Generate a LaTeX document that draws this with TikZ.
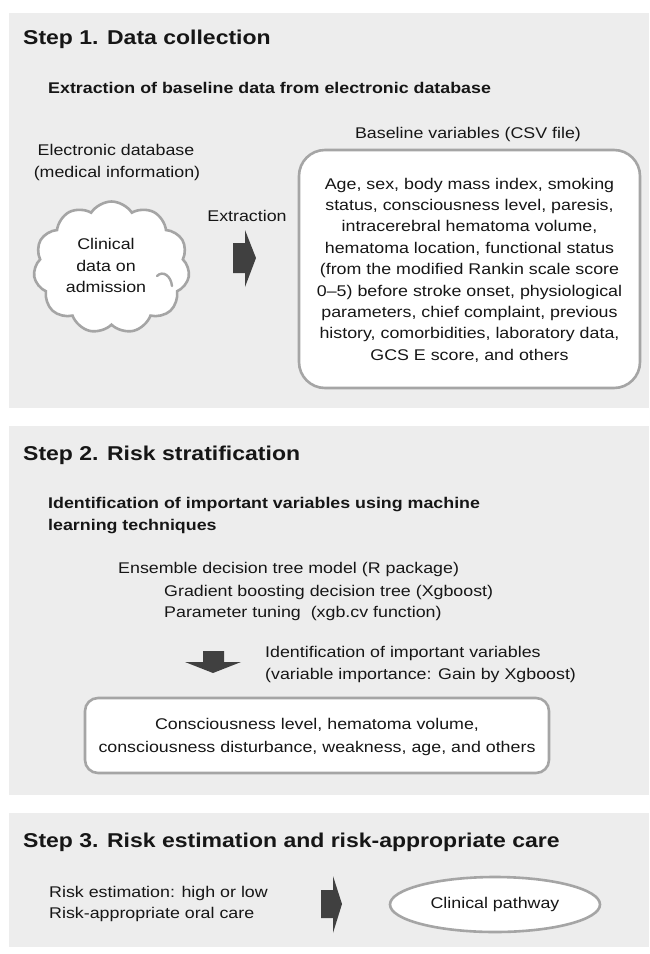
\documentclass[tikz,border=0pt]{standalone}
\usepackage{fontspec}
\setmainfont[FakeStretch=1.15]{Liberation Sans}
\usetikzlibrary{shapes.symbols,shapes.geometric}
\definecolor{panelgray}{RGB}{237,237,237}
\definecolor{linegray}{RGB}{165,165,165}
\definecolor{arrowgray}{RGB}{64,64,64}
\definecolor{txt}{RGB}{22,22,22}
\begin{document}
\begin{tikzpicture}[x=1pt,y=-1pt,
  panel/.style={fill=panelgray,draw=none},
  steptitle/.style={anchor=base west,inner sep=0,font=\fontsize{20}{24}\selectfont\bfseries,text=txt},
  subtitle/.style={anchor=base west,inner sep=0,font=\fontsize{15.5}{19}\selectfont\bfseries,text=txt},
  bodyw/.style={anchor=base west,inner sep=0,font=\fontsize{15.5}{21.4}\selectfont,text=txt},
  bodyc/.style={anchor=base,inner sep=0,font=\fontsize{15.5}{21.4}\selectfont,text=txt},
  grayframe/.style={draw=linegray,line width=2.6pt,fill=white},
  innerarc/.style={draw=linegray,line width=2.4pt,line cap=round},
  blockarrow/.style={fill=arrowgray,draw=none}
]
\useasboundingbox (0,0) rectangle (649,954);
\fill[white] (0,0) rectangle (649,954);
% panels
\fill[panel] (9,13) rectangle (649,408);
\fill[panel] (9,426) rectangle (649,795);
\fill[panel] (9,813) rectangle (649,947);

% ---------- Step 1 ----------
\node[steptitle] (t1) at (23,44) {Step 1. Data collection};
\node[subtitle] (s1) at (48,93.5) {Extraction of baseline data from electronic database};
\node[bodyc] (csv) at (468,138.5) {Baseline variables (CSV file)};
\node[bodyc] (edb1) at (116,155.5) {Electronic database};
\node[bodyc] (edb2) at (117,177.5) {(medical information)};
\node[cloud,grayframe,cloud puffs=11,cloud puff arc=115,aspect=1.15,
      minimum width=156pt,minimum height=132pt,inner sep=0] (cloud) at (111.5,267.5) {};
\draw[innerarc] (157,276) .. controls (163,270) and (171,276) .. (172,286);
\node[bodyc] (cl1) at (106,249.5) {Clinical};
\node[bodyc] (cl2) at (106,271.5) {data on};
\node[bodyc] (cl3) at (106,292.5) {admission};
\node[bodyc] (extr) at (247,221.5) {Extraction};
\fill[blockarrow] (233,243) -- (245,243) -- (245,230) -- (256,258) -- (245,287) -- (245,273) -- (233,273) -- cycle;
\draw[grayframe,rounded corners=26pt] (299,150) rectangle (640,388);
\node[inner sep=0,font=\fontsize{15.5}{21.4}\selectfont,text=txt,align=center] (vars) at (469.5,270) {Age, sex, body mass index, smoking\\
status, consciousness level, paresis,\\
intracerebral hematoma volume,\\
hematoma location, functional status\\
(from the modified Rankin scale score\\
0--5) before stroke onset, physiological\\
parameters, chief complaint, previous\\
history, comorbidities, laboratory data,\\
GCS E score, and others};

% ---------- Step 2 ----------
\node[steptitle] (t2) at (23,460) {Step 2. Risk stratification};
\node[subtitle] (s2a) at (48,508.5) {Identification of important variables using machine};
\node[subtitle] (s2b) at (48,530.5) {learning techniques};
\node[bodyw] (ens) at (118,573.5) {Ensemble decision tree model (R package)};
\node[bodyw] (gbt) at (164,596.5) {Gradient boosting decision tree (Xgboost)};
\node[bodyw] (par) at (164,617.5) {Parameter tuning\ \ (xgb.cv function)};
\fill[blockarrow] (203,651) -- (224,651) -- (224,662) -- (241,662) -- (213,673) -- (185,662) -- (203,662) -- cycle;
\node[bodyw] (imp1) at (265,657.5) {Identification of important variables};
\node[bodyw] (imp2) at (265,679.5) {(variable importance: Gain by Xgboost)};
\draw[grayframe,rounded corners=13pt] (85,698) rectangle (549,773);
\node[inner sep=0,font=\fontsize{15.5}{23}\selectfont,text=txt,align=center] (res) at (317,736.5) {Consciousness level, hematoma volume,\\
consciousness disturbance, weakness, age, and others};

% ---------- Step 3 ----------
\node[steptitle] (t3) at (23,847) {Step 3. Risk estimation and risk-appropriate care};
\node[bodyw] (r1) at (49,897.5) {Risk estimation: high or low};
\node[bodyw] (r2) at (49,918.5) {Risk-appropriate oral care};
\fill[blockarrow] (321,890) -- (333,890) -- (333,876) -- (342,904) -- (333,933) -- (333,918) -- (321,918) -- cycle;
\node[ellipse,grayframe,minimum width=210pt,minimum height=55pt,inner sep=0,
      font=\fontsize{15.5}{19}\selectfont,text=txt] (cp) at (495,904.5) {Clinical pathway};
\end{tikzpicture}
\end{document}
